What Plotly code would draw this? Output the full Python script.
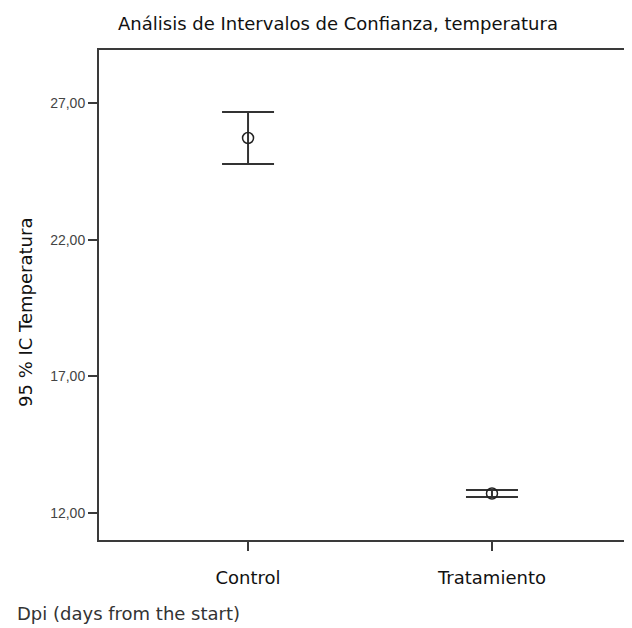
import plotly.graph_objects as go

_TEXT = "#111111"
_AXIS = "#3a3a3a"
_TICK = "#444444"
_WIDE = "DejaVu Sans, Liberation Sans, Arial, sans-serif"

groups = ["Control", "Tratamiento"]
means = [25.72, 12.71]
upper = [26.67, 12.84]
lower = [24.77, 12.58]
y_ticks = [12, 17, 22, 27]

x_pos = list(range(len(groups)))
err_plus = [u - m for u, m in zip(upper, means)]
err_minus = [m - l for m, l in zip(means, lower)]

# the page body adds an 8px margin, so the figure is drawn 8px smaller
W, H = 624, 620
L, T, B = 91, 42, 88
PW, PH = W - L, H - T - B

fig = go.Figure()
fig.add_trace(go.Scatter(
    x=x_pos,
    y=means,
    mode="markers",
    marker=dict(symbol="circle-open", size=11, color="#222222", line=dict(width=1.5)),
    error_y=dict(
        type="data",
        symmetric=False,
        array=err_plus,
        arrayminus=err_minus,
        color="#333333",
        thickness=2,
        width=26,
    ),
    showlegend=False,
    hoverinfo="skip",
))

fig.update_layout(
    width=W,
    height=H,
    paper_bgcolor="#ffffff",
    plot_bgcolor="#ffffff",
    separators=",.",
    margin=dict(l=L, r=0, t=T, b=B, autoexpand=False),
    font=dict(family=_WIDE, color=_TEXT, size=18),
    title=dict(
        text="Análisis de Intervalos de Confianza, temperatura",
        x=330 / W,
        xanchor="center",
        xref="container",
        y=1 - 16 / H,
        yanchor="middle",
        yref="container",
        font=dict(size=18, color=_TEXT, family=_WIDE),
    ),
)

fig.update_xaxes(
    range=[-0.611, 1.574],
    tickvals=x_pos,
    ticktext=groups,
    showgrid=False,
    zeroline=False,
    showline=True,
    linecolor=_AXIS,
    linewidth=2,
    mirror=True,
    ticks="outside",
    ticklen=9,
    tickcolor=_AXIS,
    tickwidth=1.5,
    ticklabelstandoff=11,
    tickfont=dict(size=18, color=_TEXT, family=_WIDE),
)
fig.update_yaxes(
    range=[11.01, 28.94],
    tickvals=y_ticks,
    tickformat=".2f",
    showgrid=False,
    zeroline=False,
    showline=True,
    linecolor=_AXIS,
    linewidth=2,
    ticks="outside",
    ticklen=9,
    tickcolor=_AXIS,
    tickwidth=1.5,
    tickfont=dict(size=14, color=_TICK, family="Liberation Sans, Arial, sans-serif"),
)

fig.add_annotation(
    text="95 % IC Temperatura",
    xref="paper", yref="paper",
    x=(17 - L) / PW, y=(T + PH - 305) / PH,
    xanchor="center", yanchor="middle",
    textangle=-90,
    showarrow=False,
    font=dict(size=18, color=_TEXT, family=_WIDE),
)
fig.add_annotation(
    text="Dpi (days from the start)",
    xref="paper", yref="paper",
    x=(7 - L) / PW, y=(T + PH - 605) / PH,
    xanchor="left", yanchor="middle",
    showarrow=False,
    font=dict(size=18, color="#333333", family=_WIDE),
)

fig.write_html("out.html")
